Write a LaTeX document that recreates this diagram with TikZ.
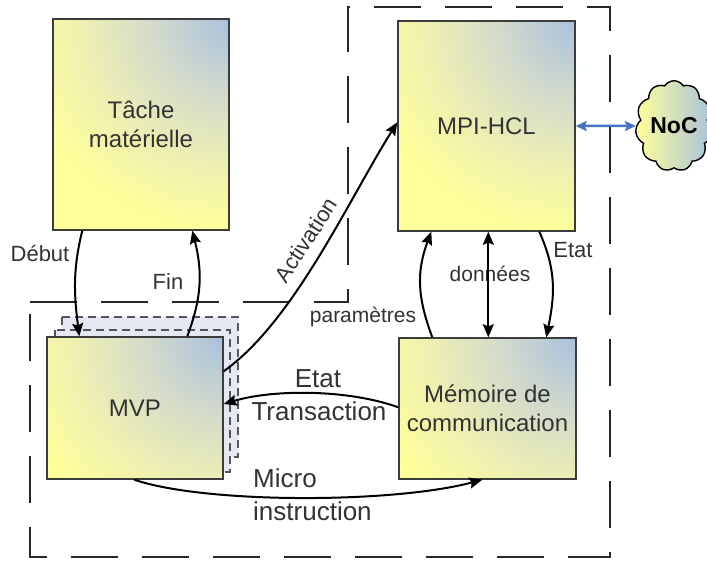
\documentclass[tikz,border=0pt]{standalone}
\usepackage{fontspec}
\setmainfont{Liberation Sans}
\usetikzlibrary{arrows.meta,shapes.symbols,calc}

\definecolor{boxyellow}{HTML}{FFFF99}
\definecolor{boxcream}{HTML}{EDEFB2}
\definecolor{boxgrey}{HTML}{D3DBCB}
\definecolor{boxblue}{HTML}{A9C1DD}
\definecolor{boxedge}{HTML}{3C3C3C}
\definecolor{inktext}{HTML}{333333}
\definecolor{ghostfill}{HTML}{E3E8F2}
\definecolor{ghostedge}{HTML}{555555}
\definecolor{linkblue}{HTML}{4472C4}

% fade from a blue-grey corner into pale yellow
\pgfdeclareradialshading{cornerfade}{\pgfpoint{0bp}{0bp}}{%
  color(0bp)=(boxblue); color(9bp)=(boxgrey); color(17bp)=(boxcream);
  color(25bp)=(boxyellow); color(50bp)=(boxyellow)}

\tikzset{
  block/.style={draw=boxedge, line width=1.4pt, rectangle, inner sep=0pt,
    fill=boxyellow,
    path picture={\shade[shading=cornerfade]
      (path picture bounding box.north east) circle[radius=215pt];},
    text=inktext, align=center,
    font=\fontsize{24}{29}\selectfont},
  ghost/.style={draw=ghostedge, fill=ghostfill, line width=1.5pt,
    dash pattern=on 8pt off 5pt},
  region/.style={draw=black!85, line width=2pt, dash pattern=on 47pt off 24pt},
  link/.style={line width=2pt, black,
    -{Stealth[length=13pt,width=11pt,inset=2pt]}},
  duallink/.style={line width=2pt, black,
    {Stealth[length=13pt,width=11pt,inset=2pt]}-{Stealth[length=13pt,width=11pt,inset=2pt]}},
  netlink/.style={line width=2.5pt, linkblue,
    {Stealth[length=11pt,width=10pt,inset=2pt]}-{Stealth[length=11pt,width=10pt,inset=2pt]}},
  lbl/.style={text=inktext, inner sep=0pt, font=\fontsize{22}{26}\selectfont},
  smalllbl/.style={text=inktext, inner sep=0pt, font=\fontsize{21}{25}\selectfont},
  biglbl/.style={text=inktext, inner sep=0pt, font=\fontsize{26}{31}\selectfont},
}

\begin{document}
\begin{tikzpicture}[x=1pt,y=-1pt]
\useasboundingbox (0,0) rectangle (707,561);
\fill[white] (0,0) rectangle (707,561);

% dashed boundary of the communication block
\draw[region] (30,302) -- (348,302) -- (348,7) -- (610,7) -- (610,557) -- (30,557) -- cycle;

% stacked copies behind the MVP
\draw[ghost] (62,317) rectangle (238,457);
\draw[ghost] (55,330) rectangle (230,472);

% main blocks
\node[block, minimum width=176pt, minimum height=211pt] (tache) at (141,124.5) {Tâche\\matérielle};
\node[block, minimum width=177pt, minimum height=210pt] (mpi) at (486.5,126) {MPI-HCL};
\node[block, minimum width=176pt, minimum height=142pt] (mvp) at (135,408) {MVP};
\node[block, minimum width=177pt, minimum height=141pt] (mem) at (487.5,408.5) {Mémoire de\\communication};

% network cloud
\node[cloud, cloud puffs=11, cloud puff arc=115, aspect=0.8,
      minimum width=72pt, minimum height=90pt, inner sep=0pt,
      draw=black, line width=1.4pt, left color=boxyellow, right color=boxblue,
      text=black, font=\fontsize{23}{27}\selectfont\bfseries] (noc) at (674,126) {NoC};

% labels
\node[lbl] (ldebut) at (40,254) {Début};
\node[lbl] (lfin) at (168,282) {Fin};
\node[lbl, rotate=57] (lact) at (306,240) {Activation};
\node[smalllbl] (lparam) at (363,317) {paramètres};
\node[smalllbl] (ldata) at (490,274) {données};
\node[lbl] (letat) at (573,250) {Etat};
\node[biglbl] (letat2) at (318,379) {Etat};
\node[biglbl] (ltrans) at (319,411) {Transaction};
\node[biglbl, anchor=base west] (lmicro) at (253,487) {Micro};
\node[biglbl, anchor=base west] (linstr) at (253,520) {instruction};

% connectors
\draw[link] ($(tache.south west)+(30,0)$) .. controls +(-10,40) and +(-5,-40) .. ($(mvp.north west)+(33,0)$);
\draw[link] ($(mvp.north west)+(141,0)$) .. controls +(15,-40) and +(10,40) .. ($(tache.south west)+(140,0)$);
\draw[link] ($(mvp.north east)+(0,35)$) .. controls +(70,-50) and +(-50,80) .. ($(mpi.north west)+(0,102)$);
\draw[link] ($(mem.north west)+(34,0)$) .. controls +(-15,-40) and +(-15,40) .. ($(mpi.south west)+(34,0)$);
\draw[duallink] ($(mpi.south west)+(91,0)$) -- ($(mem.north west)+(90,0)$);
\draw[link] ($(mpi.south west)+(142,0)$) .. controls +(18,40) and +(8,-40) .. ($(mem.north west)+(148,0)$);
\draw[link] ($(mem.north west)+(0,70)$) .. controls +(-50,-18) and +(50,-15) .. ($(mvp.east)+(0,-4)$);
\draw[link] ($(mvp.south west)+(88,0)$) .. controls +(70,24) and +(-90,24) .. ($(mem.south west)+(84,0)$);
\draw[netlink] (mpi.east) -- (noc.west);
\end{tikzpicture}
\end{document}
